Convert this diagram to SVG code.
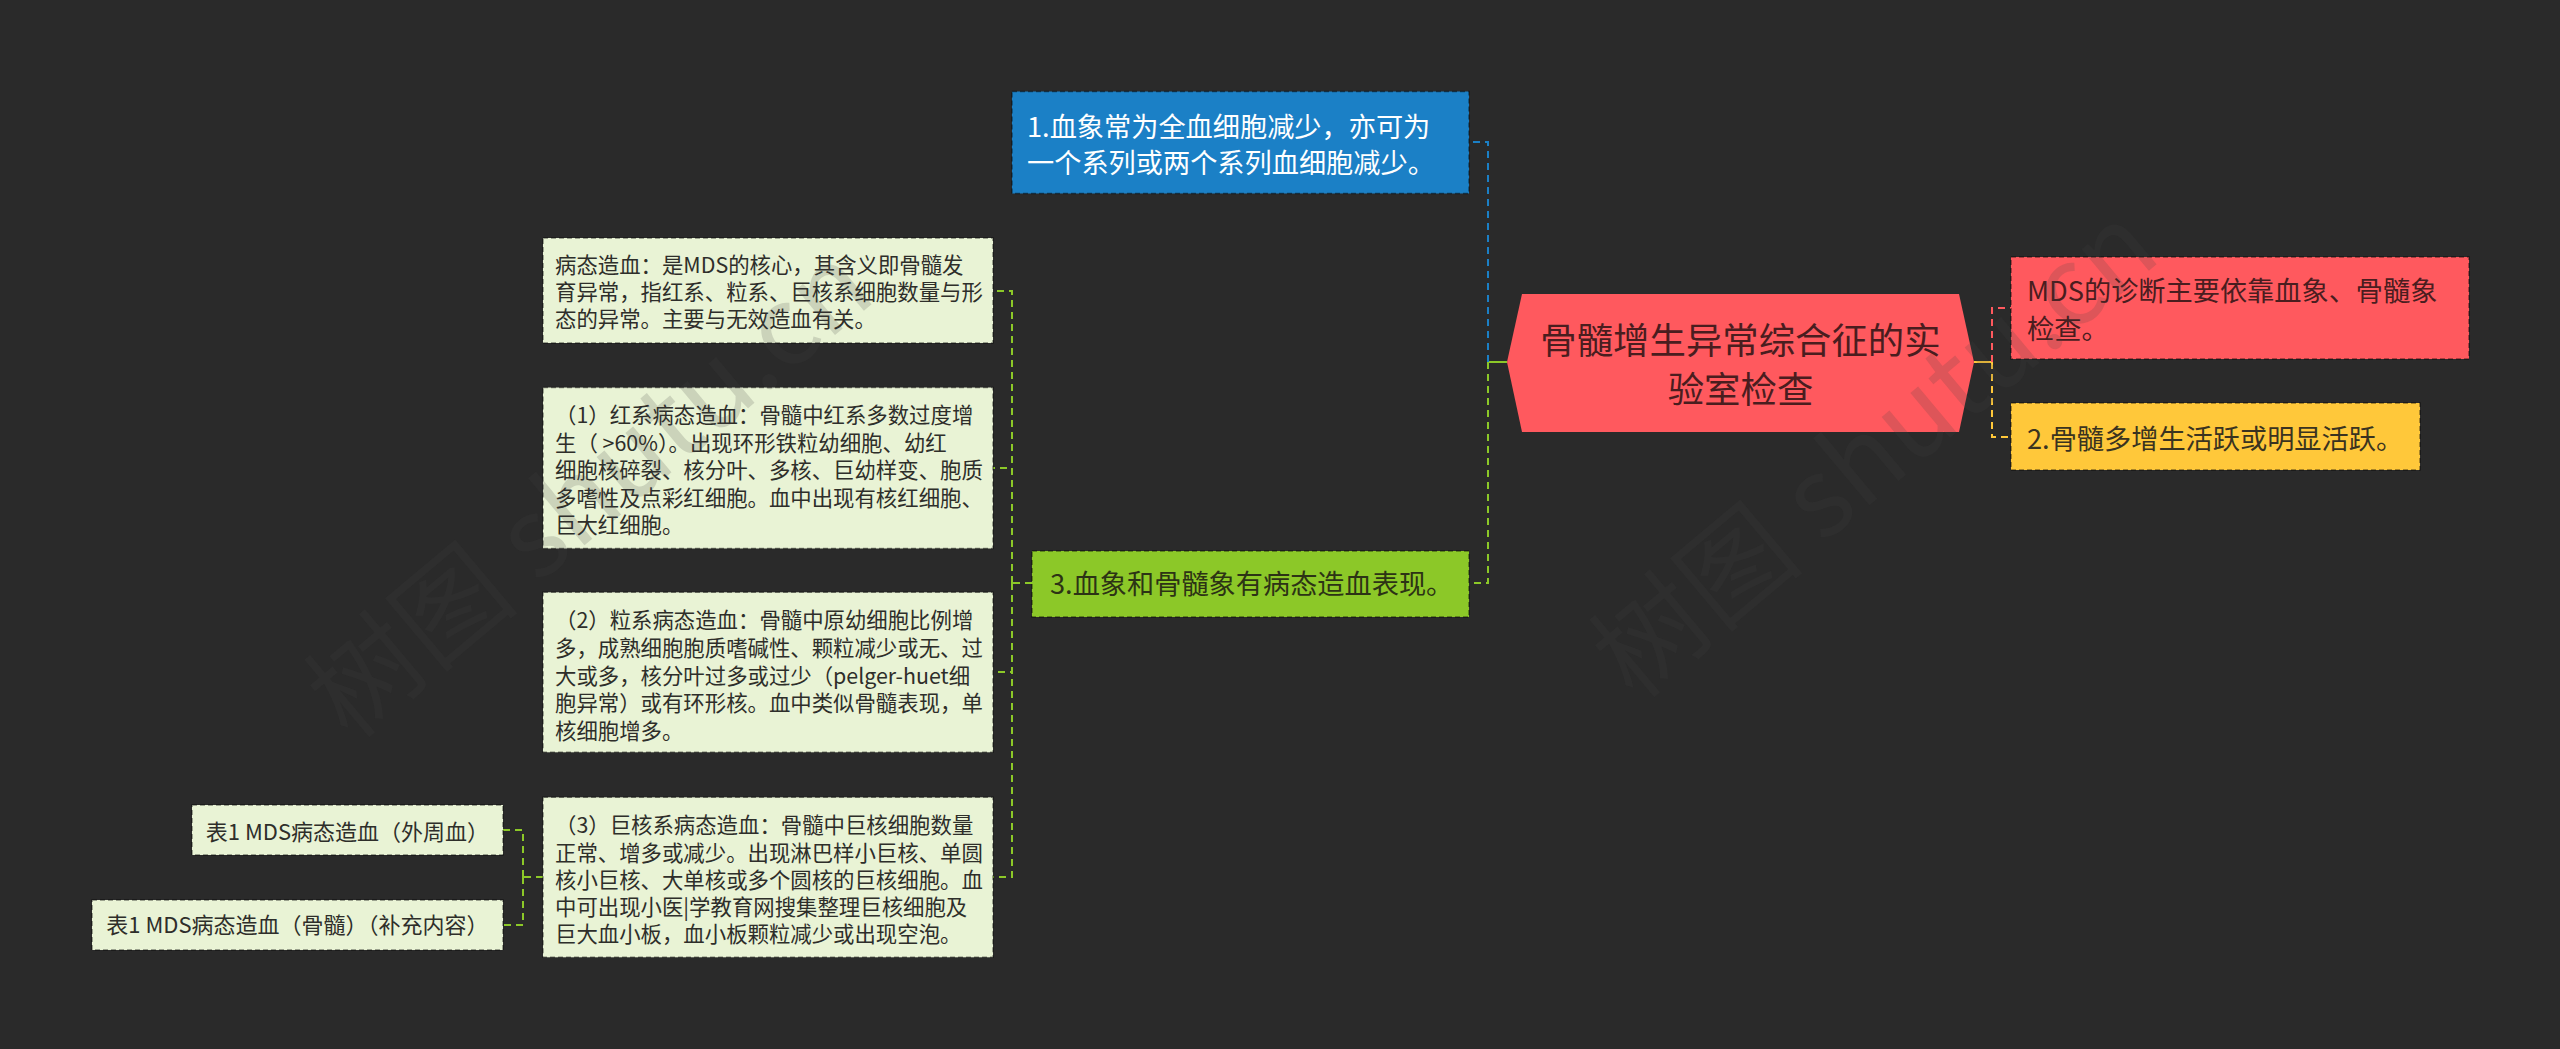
<svg xmlns="http://www.w3.org/2000/svg" width="2560" height="1049" viewBox="0 0 2560 1049">
<style>
text{font-family:"Noto Sans CJK SC","Noto Sans",sans-serif}
.box{stroke:#000;stroke-opacity:0.45;stroke-width:1.5;stroke-dasharray:5 3}
.lt{fill:#e9f3d5}
.t21{font-size:21.4px;fill:#2e2e2a}
.t22{font-size:22px;fill:#2e2e2a}
.t27{font-size:27.2px}
.c{fill:none;stroke-width:2;stroke-dasharray:7 5}
.cg{stroke:#8cc828}
.cb{stroke:#1b80c6}
.cr{stroke:#ff595e}
.cy{stroke:#ffc83a}
.wm{font-size:110px;fill:#404040;fill-opacity:0.18}
</style>
<rect x="0" y="0" width="2560" height="1049" fill="#2a2a2a"/>

<g id="connectors">
<line x1="1488" y1="362" x2="1507" y2="362" stroke="#8cc828" stroke-width="2"/>
<path class="c cb" d="M1488,362 V142 H1469"/>
<path class="c cg" d="M1488,362 V583 H1469"/>
<line x1="1974" y1="362" x2="1992" y2="362" stroke="#ffc83a" stroke-width="2"/>
<path class="c cr" d="M1992,362 V308 H2011"/>
<path class="c cy" d="M1992,362 V437 H2011"/>
<path class="c cg" d="M1032,583 H1012"/>
<path class="c cg" d="M1012,583 V291 H993"/>
<path class="c cg" d="M1012,583 V468 H993"/>
<path class="c cg" d="M1012,583 V672 H993"/>
<path class="c cg" d="M1012,583 V877 H993"/>
<path class="c cg" d="M543,877 H523"/>
<path class="c cg" d="M523,877 V830 H503"/>
<path class="c cg" d="M523,877 V925 H503"/>
</g>

<g id="root">
<polygon points="1522,294 1959,294 1974,362 1959,432 1522,432 1507,362" fill="#ff595e"/>
<text x="1740.5" y="354" font-size="36.4" fill="#4a1d1f" text-anchor="middle">骨髓增生异常综合征的实</text>
<text x="1740.5" y="402.5" font-size="36.4" fill="#4a1d1f" text-anchor="middle">验室检查</text>
</g>

<g id="n1">
<rect class="box" x="1012" y="91.5" width="457" height="102" fill="#1b80c6"/>
<text class="t27" x="1027" y="137" fill="#ffffff">1.血象常为全血细胞减少，亦可为</text>
<text class="t27" x="1027" y="172.6" fill="#ffffff">一个系列或两个系列血细胞减少。</text>
</g>

<g id="n3">
<rect class="box" x="1032" y="551" width="437" height="66" fill="#8cc828"/>
<text class="t27" x="1050" y="594" fill="#2c3315">3.血象和骨髓象有病态造血表现。</text>
</g>

<g id="mds">
<rect class="box" x="2011" y="257" width="458" height="102" fill="#ff595e"/>
<text class="t27" x="2027" y="300.6" fill="#4a1d1f">MDS的诊断主要依靠血象、骨髓象</text>
<text class="t27" x="2027" y="339" fill="#4a1d1f">检查。</text>
</g>

<g id="n2">
<rect class="box" x="2011" y="403" width="409" height="67" fill="#ffc83a"/>
<text class="t27" x="2027" y="448.6" fill="#3a3320">2.骨髓多增生活跃或明显活跃。</text>
</g>

<g id="d0">
<rect class="box lt" x="543" y="238" width="450" height="105"/>
<text class="t21" x="555" y="273.4">病态造血：是MDS的核心，其含义即骨髓发</text>
<text class="t21" x="555" y="300.1">育异常，指红系、粒系、巨核系细胞数量与形</text>
<text class="t21" x="555" y="326.7">态的异常。主要与无效造血有关。</text>
</g>

<g id="d1">
<rect class="box lt" x="543" y="387.5" width="450" height="161"/>
<text class="t21" x="555" y="423.4">（1）红系病态造血：骨髓中红系多数过度增</text>
<text class="t21" x="555" y="450.9">生（ &gt;60%）。出现环形铁粒幼细胞、幼红</text>
<text class="t21" x="555" y="478.4">细胞核碎裂、核分叶、多核、巨幼样变、胞质</text>
<text class="t21" x="555" y="505.9">多嗜性及点彩红细胞。血中出现有核红细胞、</text>
<text class="t21" x="555" y="533.4">巨大红细胞。</text>
</g>

<g id="d2">
<rect class="box lt" x="543" y="592.3" width="450" height="160"/>
<text class="t21" x="555" y="628.4">（2）粒系病态造血：骨髓中原幼细胞比例增</text>
<text class="t21" x="555" y="656">多，成熟细胞胞质嗜碱性、颗粒减少或无、过</text>
<text class="t21" x="555" y="683.5">大或多，核分叶过多或过少（pelger-huet细</text>
<text class="t21" x="555" y="711.3">胞异常）或有环形核。血中类似骨髓表现，单</text>
<text class="t21" x="555" y="739">核细胞增多。</text>
</g>

<g id="d3">
<rect class="box lt" x="543" y="797.3" width="450" height="160"/>
<text class="t21" x="555" y="833.4">（3）巨核系病态造血：骨髓中巨核细胞数量</text>
<text class="t21" x="555" y="860.5">正常、增多或减少。出现淋巴样小巨核、单圆</text>
<text class="t21" x="555" y="887.6">核小巨核、大单核或多个圆核的巨核细胞。血</text>
<text class="t21" x="555" y="914.7">中可出现小医|学教育网搜集整理巨核细胞及</text>
<text class="t21" x="555" y="941.8">巨大血小板，血小板颗粒减少或出现空泡。</text>
</g>

<g id="t1">
<rect class="box lt" x="192" y="805" width="311" height="50"/>
<text class="t22" x="347.5" y="840" text-anchor="middle">表1 MDS病态造血（外周血）</text>
</g>

<g id="t2">
<rect class="box lt" x="92" y="900" width="411" height="50"/>
<text class="t22" x="297.5" y="933.2" text-anchor="middle">表1 MDS病态造血（骨髓）（补充内容）</text>
</g>

<g id="watermark">
<text class="wm" x="350" y="742" transform="rotate(-40 350 742)">树图 shutu.cn</text>
<text class="wm" x="1635" y="702" transform="rotate(-40 1635 702)">树图 shutu.cn</text>
</g>
</svg>
